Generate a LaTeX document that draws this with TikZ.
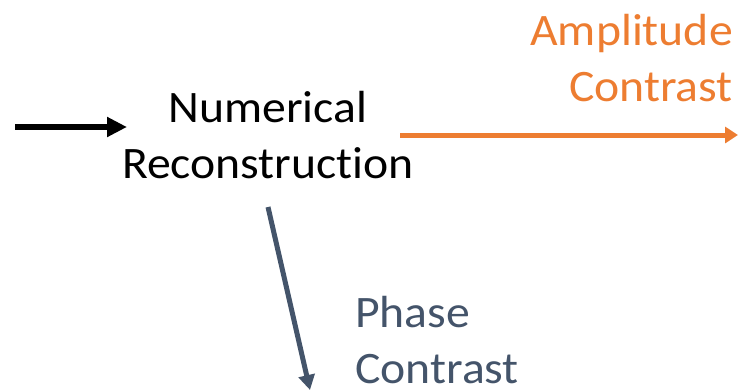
\documentclass[tikz,border=0pt]{standalone}
\usepackage{fontspec}
\setmainfont{Carlito}[Ligatures={NoCommon}, FakeStretch=1.06]
\usetikzlibrary{arrows.meta}
\definecolor{accentorange}{HTML}{ED7D31}
\definecolor{slate}{HTML}{44546A}
\tikzset{
  label text/.style={inner sep=0pt, font=\fontsize{45}{56}\selectfont},
}
\begin{document}
\begin{tikzpicture}[x=1pt, y=-1pt]
  \useasboundingbox (0,0) rectangle (738,391);

  % text blocks (base anchor sits on the last line)
  \node[label text, align=center, anchor=base] (recon) at (268,178)
    {Numerical\\Reconstruction};
  \node[label text, align=right, anchor=base east, text=accentorange] (amp) at (733,101)
    {Amplitude\\Contrast};
  \node[label text, align=left, anchor=base west, text=slate] (phase) at (355,383)
    {Phase\\Contrast};

  % arrow end points
  \coordinate (inStart) at (15,127);
  \coordinate (inEnd) at (127,127);
  \coordinate (ampStart) at (400,135);
  \coordinate (ampEnd) at (738,135);
  \coordinate (phStart) at (268,207);
  \coordinate (phEnd) at (310,390);

  % connectors
  \draw[line width=6pt, -{Triangle[length=20pt,width=19pt]}] (inStart) -- (inEnd);
  \draw[accentorange, line width=5pt, -{Triangle[length=13pt,width=16pt]}] (ampStart) -- (ampEnd);
  \draw[slate, line width=5pt, -{Triangle[length=15pt,width=16pt]}] (phStart) -- (phEnd);
\end{tikzpicture}
\end{document}
